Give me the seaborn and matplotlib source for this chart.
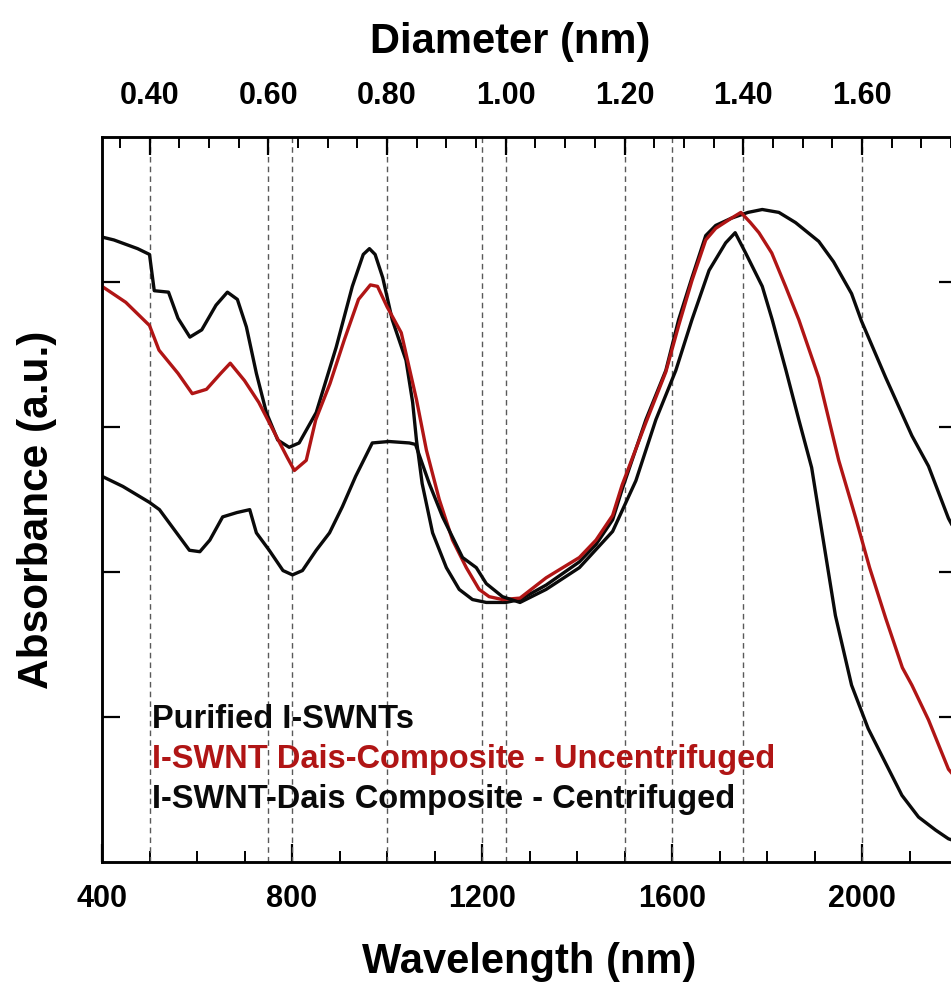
import numpy as np
import pandas as pd
import matplotlib
matplotlib.use("Agg")
import matplotlib.pyplot as plt
import seaborn as sns
from matplotlib.ticker import MultipleLocator, FormatStrFormatter

# ---------------- data ----------------
series_names = ["Purified I-SWNTs",
                "I-SWNT Dais-Composite - Uncentrifuged",
                "I-SWNT-Dais Composite - Centrifuged"]
series_colors = ["#0a0a0a", "#b01515", "#0a0a0a"]

wl_purified = [400, 425, 450, 475, 500, 510, 540, 560, 585, 610, 640, 664, 685, 704, 725,
               746, 770, 794, 815, 851, 893, 927, 950, 963, 975, 991, 1011, 1040, 1054,
               1062, 1074, 1096, 1125, 1152, 1180, 1209, 1250, 1280, 1335, 1405, 1440,
               1475, 1495, 1545, 1587, 1614, 1642, 1671, 1692, 1725, 1760, 1790, 1825,
               1860, 1909, 1940, 1978, 1999, 2050, 2105, 2140, 2182, 2200]
abs_purified = [4.31, 4.29, 4.26, 4.23, 4.19, 3.94, 3.93, 3.75, 3.62, 3.67, 3.84, 3.93, 3.88,
                3.69, 3.37, 3.10, 2.91, 2.86, 2.89, 3.10, 3.55, 3.97, 4.19, 4.23, 4.19, 4.03,
                3.74, 3.46, 3.17, 2.91, 2.61, 2.27, 2.03, 1.88, 1.81, 1.79, 1.79, 1.81, 1.91,
                2.07, 2.19, 2.36, 2.57, 3.05, 3.39, 3.74, 4.03, 4.32, 4.39, 4.44, 4.48, 4.50,
                4.48, 4.41, 4.28, 4.14, 3.92, 3.73, 3.34, 2.94, 2.73, 2.37, 2.26]

wl_uncentrifuged = [400, 450, 500, 520, 560, 590, 620, 650, 670, 700, 730, 760, 790, 805,
                    830, 850, 880, 910, 940, 965, 980, 1000, 1030, 1062, 1083, 1110, 1138,
                    1167, 1194, 1215, 1243, 1280, 1335, 1405, 1440, 1475, 1495, 1545, 1587,
                    1614, 1642, 1671, 1692, 1725, 1745, 1765, 1783, 1810, 1839, 1867, 1909,
                    1951, 1987, 2016, 2050, 2085, 2105, 2140, 2182, 2200]
abs_uncentrifuged = [3.97, 3.86, 3.70, 3.53, 3.37, 3.23, 3.26, 3.37, 3.44, 3.32, 3.17, 2.98,
                     2.79, 2.70, 2.77, 3.05, 3.30, 3.60, 3.88, 3.98, 3.97, 3.83, 3.65, 3.19,
                     2.84, 2.50, 2.22, 2.03, 1.88, 1.83, 1.81, 1.82, 1.96, 2.10, 2.22, 2.39,
                     2.60, 3.03, 3.38, 3.70, 4.01, 4.29, 4.37, 4.44, 4.48, 4.41, 4.34, 4.20,
                     3.97, 3.74, 3.34, 2.77, 2.37, 2.03, 1.68, 1.34, 1.22, 0.98, 0.64, 0.57]

wl_centrifuged = [400, 444, 500, 521, 557, 584, 606, 627, 654, 684, 711, 725, 752, 781, 801,
                  822, 851, 879, 906, 934, 969, 1004, 1047, 1060, 1089, 1117, 1159, 1188,
                  1209, 1243, 1280, 1335, 1405, 1475, 1524, 1566, 1608, 1642, 1678, 1713,
                  1733, 1755, 1790, 1811, 1840, 1867, 1894, 1916, 1944, 1978, 2013, 2050,
                  2084, 2119, 2155, 2182, 2200]
abs_centrifuged = [2.66, 2.59, 2.48, 2.43, 2.27, 2.15, 2.14, 2.22, 2.38, 2.41, 2.43, 2.27,
                   2.15, 2.01, 1.98, 2.01, 2.15, 2.27, 2.45, 2.66, 2.89, 2.90, 2.89, 2.88,
                   2.61, 2.38, 2.10, 2.03, 1.92, 1.83, 1.79, 1.88, 2.03, 2.28, 2.63, 3.05,
                   3.39, 3.74, 4.08, 4.27, 4.34, 4.20, 3.97, 3.74, 3.39, 3.05, 2.72, 2.27,
                   1.70, 1.22, 0.92, 0.68, 0.46, 0.31, 0.22, 0.16, 0.14]

guide_wavelengths = [500, 750, 800, 1000, 1200, 1250, 1500, 1600, 1750, 2000]
wl_per_diameter = 1250.0          # top axis: diameter (nm) = wavelength / 1250
wl_limits = (400, 2200)
abs_limits = (0, 5)
abs_ticks = [1, 2, 3, 4]

# ---------------- style ----------------
sns.set_theme(style="ticks")
plt.rcParams["font.family"] = ["Liberation Sans", "DejaVu Sans"]
plt.rcParams["font.weight"] = "bold"
plt.rcParams["axes.labelweight"] = "bold"
for key in ["text.color", "axes.labelcolor", "xtick.color", "ytick.color", "axes.edgecolor"]:
    plt.rcParams[key] = "black"

df = pd.concat([
    pd.DataFrame({"Wavelength": wl_purified, "Absorbance": abs_purified, "series": series_names[0]}),
    pd.DataFrame({"Wavelength": wl_uncentrifuged, "Absorbance": abs_uncentrifuged, "series": series_names[1]}),
    pd.DataFrame({"Wavelength": wl_centrifuged, "Absorbance": abs_centrifuged, "series": series_names[2]}),
], ignore_index=True)

W, H = 951, 984
fig = plt.figure(figsize=(W / 100, H / 100), dpi=100)
ax = fig.add_axes([102 / W, (H - 862) / H, 855 / W, 725 / H])

for x in guide_wavelengths:
    ax.axvline(x, color="0.35", lw=1.0, ls=(0, (4, 3)), zorder=1)

sns.lineplot(data=df, x="Wavelength", y="Absorbance", hue="series",
             palette=dict(zip(series_names, series_colors)),
             estimator=None, sort=False, lw=2.4, legend=False, ax=ax, zorder=3)

ax.set_xlim(*wl_limits)
ax.set_ylim(*abs_limits)
ax.set_yticks(abs_ticks)
ax.xaxis.set_major_locator(MultipleLocator(400))
ax.xaxis.set_minor_locator(MultipleLocator(100))
ax.tick_params(axis="x", which="major", direction="in", length=13, width=1.6,
               labelsize=22, pad=16, top=False, bottom=True, colors="black")
ax.tick_params(axis="x", which="minor", direction="in", length=8, width=1.4,
               top=False, bottom=True, colors="black")
ax.tick_params(axis="y", which="major", direction="in", length=13, width=1.6,
               left=True, right=True, labelleft=False, labelright=False, colors="black")
for lab in ax.get_xticklabels():
    lab.set_fontweight("bold")
for sp in ax.spines.values():
    sp.set_linewidth(1.8)
    sp.set_color("black")
    sp.set_visible(True)

ax.set_xlabel("Wavelength (nm)", fontsize=30, fontweight="bold", labelpad=20)
ax.set_ylabel("Absorbance (a.u.)", fontsize=30.5, fontweight="bold")
ax.yaxis.set_label_coords(-(102 - 57) / 855, (862 - 510) / 725)

# top axis: diameter
ax2 = ax.twiny()
ax2.set_xlim(wl_limits[0] / wl_per_diameter, wl_limits[1] / wl_per_diameter)
ax2.xaxis.set_major_locator(MultipleLocator(0.2))
ax2.xaxis.set_minor_locator(MultipleLocator(0.05))
ax2.xaxis.set_major_formatter(FormatStrFormatter("%.2f"))
ax2.tick_params(axis="x", which="major", direction="in", length=13, width=1.6,
                labelsize=22, pad=19, top=True, bottom=False, colors="black")
ax2.tick_params(axis="x", which="minor", direction="in", length=8, width=1.4,
                top=True, bottom=False, colors="black")
for lab in ax2.get_xticklabels():
    lab.set_fontweight("bold")
ax2.set_xlabel("Diameter (nm)", fontsize=30, fontweight="bold", labelpad=20)
ax2.xaxis.label.set_x((510 - 102) / 855)
for sp in ax2.spines.values():
    sp.set_linewidth(1.8)
    sp.set_color("black")

# legend-like labels
legend_y = [(862 - 728) / 725, (862 - 768) / 725, (862 - 808) / 725]
for name, col, yy in zip(series_names, series_colors, legend_y):
    ax.text((152 - 102) / 855, yy, name, transform=ax.transAxes, color=col,
            fontsize=23.5, fontweight="bold", va="baseline", ha="left", zorder=5)

fig.savefig("out.png", dpi=100)
